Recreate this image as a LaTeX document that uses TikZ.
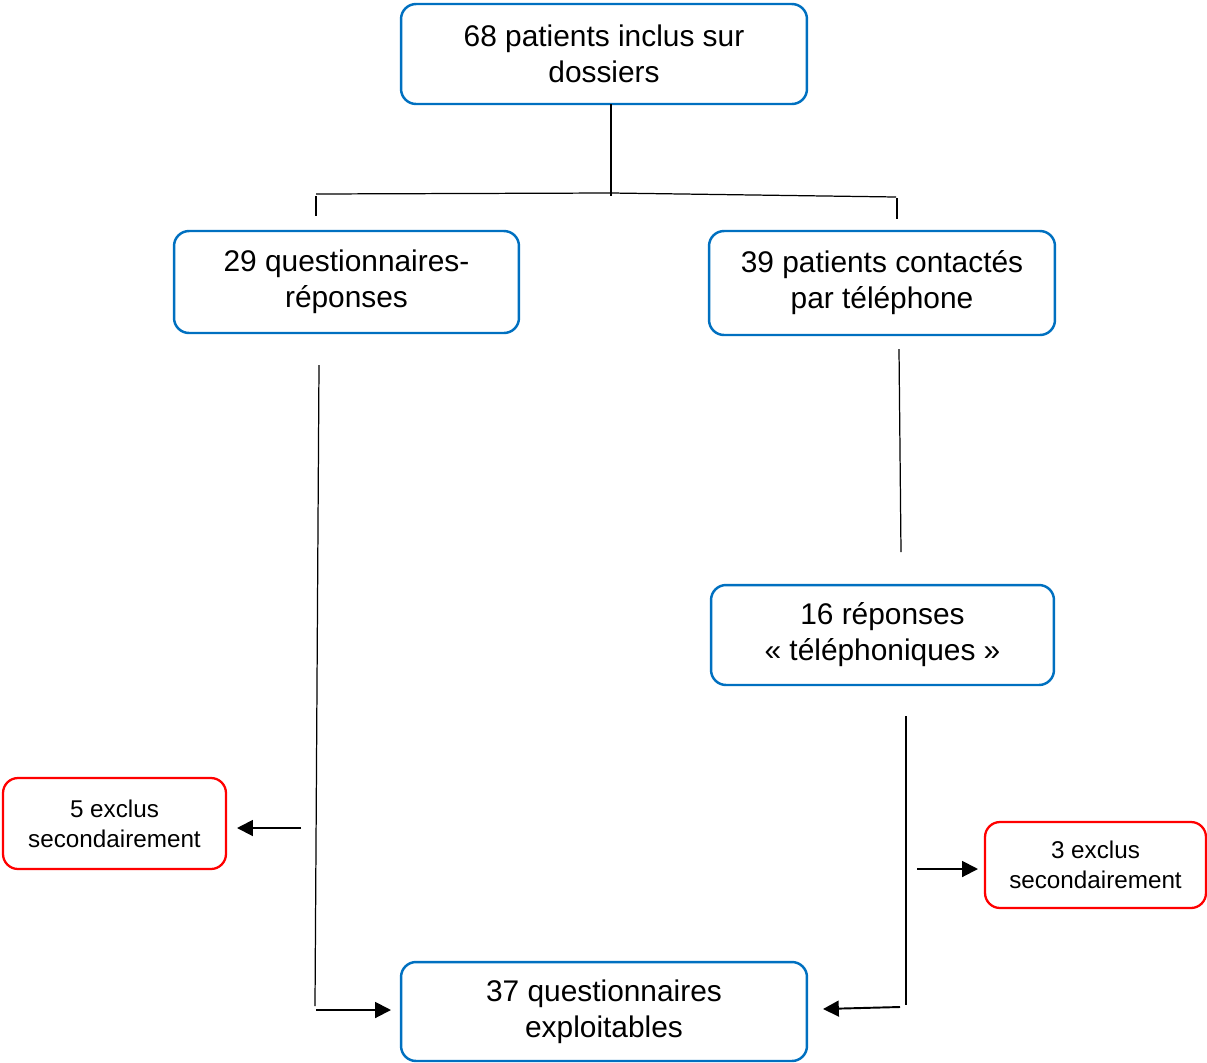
\documentclass[tikz,border=0pt]{standalone}
\usepackage{fontspec}
\setmainfont{Liberation Sans}
\usetikzlibrary{arrows.meta}
\definecolor{boxblue}{RGB}{0,112,192}
\definecolor{boxred}{RGB}{255,0,0}
\begin{document}
\begin{tikzpicture}[x=0.02cm,y=-0.02cm,
  bluebox/.style={draw=boxblue,line width=1.4pt,rounded corners=0.3cm,align=center,inner sep=0pt,
    font=\fontsize{17}{20.5}\selectfont},
  redbox/.style={draw=boxred,line width=1.3pt,rounded corners=0.3cm,align=center,inner sep=0pt,
    font=\fontsize{13.8}{17}\selectfont},
  conn/.style={line width=0.7pt,black},
  arr/.style={line width=1.1pt,black,-{Triangle[length=9pt,width=9pt]}}]
\useasboundingbox (0,0) rectangle (1207,1062);
\node[bluebox,minimum width=8.12cm,minimum height=2.0cm] (top) at (604,54) {68 patients inclus sur\\dossiers};
\node[bluebox,minimum width=6.9cm,minimum height=2.04cm] (left) at (346.5,282) {29 questionnaires-\\réponses};
\node[bluebox,minimum width=6.92cm,minimum height=2.08cm] (right) at (882,283) {39 patients contactés\\par téléphone};
\node[bluebox,minimum width=6.86cm,minimum height=2.0cm] (tel) at (882.5,635) {16 réponses\\« téléphoniques »};
\node[bluebox,minimum width=8.12cm,minimum height=1.98cm] (bot) at (604,1011.5) {37 questionnaires\\exploitables};
\node[redbox,minimum width=4.46cm,minimum height=1.82cm] (exl) at (114.5,823.5) {5 exclus\\secondairement};
\node[redbox,minimum width=4.42cm,minimum height=1.72cm] (exr) at (1095.5,865) {3 exclus\\secondairement};
% coordinates
\coordinate (tA) at (611,104);
\coordinate (tB) at (611,196);
\coordinate (hL) at (316,194);
\coordinate (hM) at (611,193);
\coordinate (hR) at (896,197);
\coordinate (kL1) at (316,196);
\coordinate (kL2) at (316,216);
\coordinate (kR1) at (897,198);
\coordinate (kR2) at (897,219);
\coordinate (lA) at (319,365);
\coordinate (lB) at (315,1006);
\coordinate (aL1) at (316,1010);
\coordinate (aL2) at (391,1010);
\coordinate (eL1) at (301,828);
\coordinate (eL2) at (237,828);
\coordinate (rA) at (899,349);
\coordinate (rB) at (901,552);
\coordinate (sA) at (906,716);
\coordinate (sB) at (906,1005);
\coordinate (eR1) at (917,869);
\coordinate (eR2) at (978,869);
\coordinate (aR1) at (900,1007);
\coordinate (aR2) at (823,1009);
\draw[conn] (tA) -- (tB);
\draw[conn] (hL) -- (hM) -- (hR);
\draw[conn] (kL1) -- (kL2);
\draw[conn] (kR1) -- (kR2);
\draw[conn] (lA) -- (lB);
\draw[conn] (rA) -- (rB);
\draw[conn] (sA) -- (sB);
\draw[arr] (aL1) -- (aL2);
\draw[arr] (eL1) -- (eL2);
\draw[arr] (eR1) -- (eR2);
\draw[arr] (aR1) -- (aR2);
\end{tikzpicture}
\end{document}
